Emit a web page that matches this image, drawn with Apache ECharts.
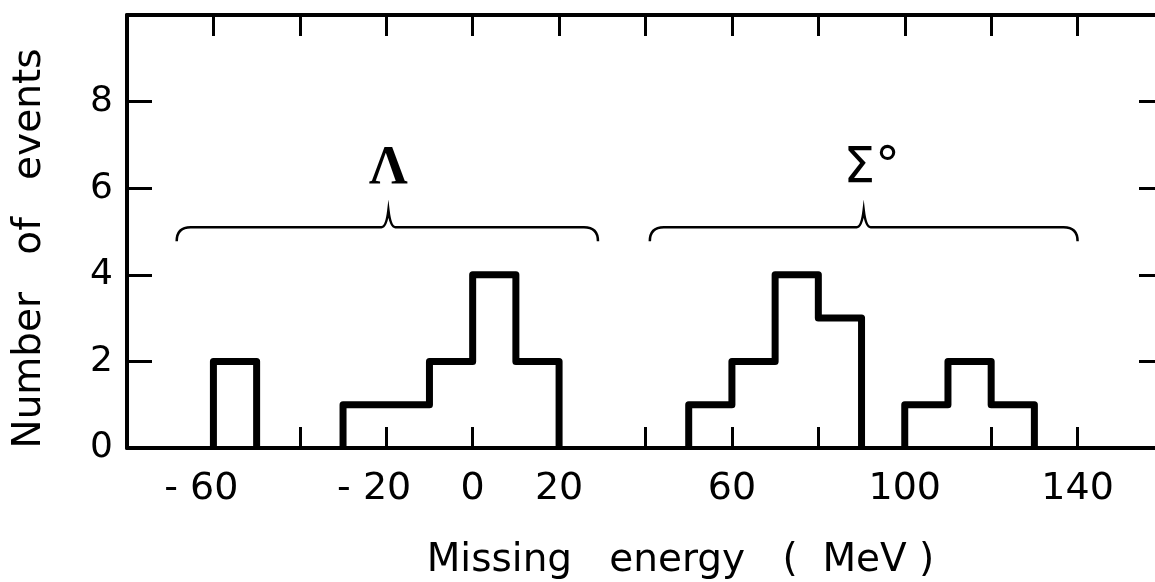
<!DOCTYPE html>
<html>
<head>
<meta charset="utf-8">
<script src="https://cdn.jsdelivr.net/npm/echarts@6/dist/echarts.min.js"></script>
<style>
  html, body { margin: 0; padding: 0; background: #fff; }
  #chart { width: 1155px; height: 582px; }
</style>
</head>
<body>
<div id="chart"></div>
<script>
// histogram: lower bin edge (MeV) and number of events, bins are 10 MeV wide
const binEdges = [-60, -50, -40, -30, -20, -10, 0, 10, 20, 30, 40, 50, 60, 70, 80, 90, 100, 110, 120];
const binCounts = [2, 0, 0, 1, 1, 2, 4, 2, 0, 0, 0, 1, 2, 4, 3, 0, 1, 2, 1];
const binWidth = 10;

// which tick values get a printed label
const xTickLabels = [-60, -20, 0, 20, 60, 100, 140];
const yTickLabels = [0, 2, 4, 6, 8];

// brace annotations (data coords)
const braceNames = ["Λ", "Σ°"];
const braceFrom = [-68.5, 41];
const braceMid = [-19.5, 90.5];
const braceTo = [29, 140];
const braceLevel = [5.1, 5.1];
const labelLevel = [6.45, 6.45];

const INK = "#000";
const FONT = "DejaVu Sans";

// turn the bins into step outlines, one per run of non-empty bins
function buildRuns() {
  const runs = [];
  let cur = null;
  binCounts.forEach((c, i) => {
    const x0 = binEdges[i];
    const x1 = x0 + binWidth;
    if (c > 0) {
      if (!cur) cur = [[x0, 0]];
      cur.push([x0, c], [x1, c]);
      if (i === binCounts.length - 1) {
        cur.push([x1, 0]);
        runs.push(cur);
        cur = null;
      }
    } else if (cur) {
      cur.push([x0, 0]);
      runs.push(cur);
      cur = null;
    }
  });
  return runs;
}

const runs = buildRuns();

const histSeries = runs.map((pts, k) => ({
  name: "hist" + k,
  type: "line",
  data: pts,
  symbol: "none",
  silent: true,
  lineStyle: { color: INK, width: 7, join: "round" },
  z: 3,
}));

function renderBrace(params, api) {
  const i = params.dataIndex;
  const pl = api.coord([api.value(0), api.value(3)]);
  const pm = api.coord([api.value(1), api.value(3)]);
  const pr = api.coord([api.value(2), api.value(3)]);
  const pt = api.coord([api.value(1), api.value(4)]);
  const yf = pl[1];
  const h = 14, r = 14, w = 7, peak = 17;
  const d = [
    "M", pl[0], yf + h,
    "Q", pl[0], yf, pl[0] + r, yf,
    "L", pm[0] - w, yf,
    "Q", pm[0] - 2, yf, pm[0], yf - peak,
    "Q", pm[0] + 2, yf, pm[0] + w, yf,
    "L", pr[0] - r, yf,
    "Q", pr[0], yf, pr[0], yf + h,
  ].join(" ");
  const isLambda = i === 0;
  return {
    type: "group",
    children: [
      {
        type: "path",
        shape: { pathData: d },
        style: { fill: null, stroke: INK, lineWidth: 2.5 },
      },
      {
        type: "text",
        style: {
          text: braceNames[i],
          x: pt[0] + (isLambda ? 0 : 8),
          y: pt[1],
          textAlign: "center",
          textVerticalAlign: "middle",
          fill: INK,
          font: isLambda ? "bold 54px 'Liberation Serif'" : "50px " + FONT,
        },
      },
    ],
  };
}

const braceData = braceNames.map((n, i) => [braceFrom[i], braceMid[i], braceTo[i], braceLevel[i], labelLevel[i]]);

const chart = echarts.init(document.getElementById("chart"), null, { renderer: "canvas" });

const xCommon = {
  type: "value",
  min: -80,
  max: 160,
  interval: 20,
  splitLine: { show: false },
  axisLine: { show: true, onZero: false, lineStyle: { color: INK, width: 4 } },
  axisTick: { show: true, inside: true, length: 21, lineStyle: { color: INK, width: 3 } },
};
const yCommon = {
  type: "value",
  min: 0,
  max: 10,
  interval: 2,
  splitLine: { show: false },
  axisLine: { show: true, onZero: false, lineStyle: { color: INK, width: 4 } },
  axisTick: { show: true, inside: true, length: 25, lineStyle: { color: INK, width: 3 } },
};

chart.setOption({
  animation: false,
  backgroundColor: "#fff",
  grid: {
    left: 127, right: -9, top: 15, bottom: 134,
    containLabel: false,
    outerBoundsMode: "none",
  },
  xAxis: [
    {
      ...xCommon,
      position: "bottom",
      name: "Missing   energy   (  MeV )",
      nameLocation: "middle",
      nameGap: 93,
      nameTextStyle: { fontFamily: FONT, fontSize: 39, color: INK, padding: [0, 0, 0, 70] },
      axisLabel: {
        margin: 22,
        fontFamily: FONT,
        fontSize: 38,
        color: INK,
        // minus sign hangs left so the digits sit centred on the tick
        formatter: (v) => (xTickLabels.includes(v) ? (v < 0 ? "- " + Math.abs(v) + "  " : String(v)) : ""),
      },
    },
    {
      ...xCommon,
      position: "top",
      axisLabel: { show: false },
    },
  ],
  yAxis: [
    {
      ...yCommon,
      position: "left",
      name: "Number   of   events",
      nameLocation: "middle",
      nameGap: 78,
      nameTextStyle: { fontFamily: FONT, fontSize: 39, color: INK, padding: [0, 34, 0, 0] },
      axisLabel: {
        margin: 14,
        fontFamily: FONT,
        fontSize: 36,
        color: INK,
        formatter: (v) => (yTickLabels.includes(v) ? String(v) : ""),
      },
    },
    {
      ...yCommon,
      position: "right",
      axisLabel: { show: false },
    },
  ],
  series: [
    ...histSeries,
    {
      type: "custom",
      name: "braces",
      silent: true,
      renderItem: renderBrace,
      data: braceData,
      z: 4,
    },
  ],
});
</script>
</body>
</html>
